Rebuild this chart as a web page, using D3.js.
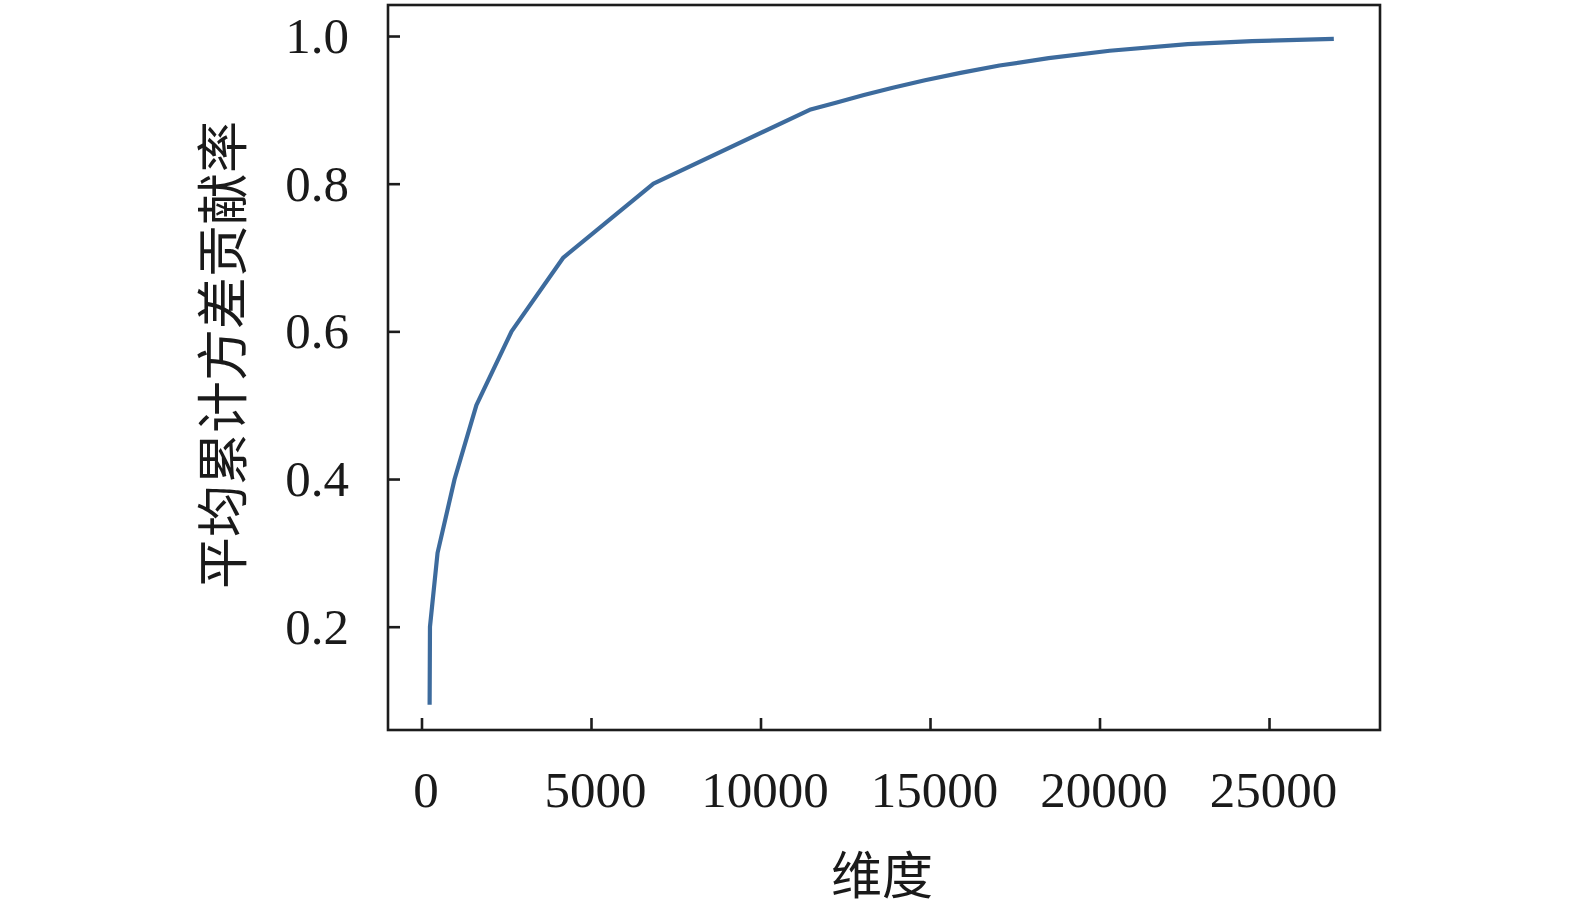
<!DOCTYPE html>
<html>
<head>
<meta charset="utf-8">
<script src="https://cdn.jsdelivr.net/npm/d3@7"></script>
<style>
  html, body { margin: 0; padding: 0; background: #fff; }
  svg { display: block; }
</style>
</head>
<body>
<div id="chart"></div>
<script>
// cumulative explained variance vs. number of dimensions
var dims   = [240, 250, 474, 977, 1620, 2657, 4185, 6843, 11450, 12250, 13050, 13900, 14850, 15900, 17050, 18500, 20300, 22600, 24500, 26850];
var ratios = [0.097, 0.2, 0.3, 0.4, 0.5, 0.6, 0.7, 0.8, 0.9, 0.91, 0.92, 0.93, 0.94, 0.95, 0.96, 0.97, 0.98, 0.989, 0.993, 0.996];
var xTicks = [0, 5000, 10000, 15000, 20000, 25000];
var yTicks = [0.2, 0.4, 0.6, 0.8, 1.0];
var xTitle = "维度";
var yTitle = "平均累计方差贡献率";

var W = 1575, H = 908;
var box = {left: 388, right: 1380, top: 5, bottom: 730};

var svg = d3.select("#chart").append("svg")
  .attr("width", W).attr("height", H);

var x = d3.scaleLinear().domain([-988, 28274]).range([box.left, box.right]);
var y = d3.scaleLinear().domain([0.0601, 1.042]).range([box.bottom, box.top]);

var points = dims.map(function(d, i){ return [d, ratios[i]]; });

var line = d3.line()
  .x(function(p){ return x(p[0]); })
  .y(function(p){ return y(p[1]); });

svg.append("path")
  .datum(points)
  .attr("d", line)
  .attr("fill", "none")
  .attr("stroke", "#3d6b9d")
  .attr("stroke-width", 4.2)
  .attr("stroke-linejoin", "round")
  .attr("stroke-linecap", "square");

// axes, ticks pointing inward
var xAxis = svg.append("g")
  .attr("transform", "translate(0," + box.bottom + ")")
  .call(d3.axisBottom(x).tickValues(xTicks).tickFormat(d3.format("d"))
    .tickSize(-12).tickPadding(41));
var yAxis = svg.append("g")
  .attr("transform", "translate(" + box.left + ",0)")
  .call(d3.axisLeft(y).tickValues(yTicks).tickFormat(d3.format(".1f"))
    .tickSize(-12).tickPadding(39));

[xAxis, yAxis].forEach(function(g){
  g.select(".domain").remove();
  g.selectAll(".tick line").attr("stroke", "#1c1c1c").attr("stroke-width", 2.6);
  g.selectAll(".tick text")
    .attr("fill", "#1a1a1a")
    .style("font-family", "'Liberation Serif', 'DejaVu Serif', serif")
    .style("font-size", "51px");
});
xAxis.selectAll(".tick text").attr("dx", 4);

// frame
svg.append("rect")
  .attr("x", box.left).attr("y", box.top)
  .attr("width", box.right - box.left).attr("height", box.bottom - box.top)
  .attr("fill", "none").attr("stroke", "#1c1c1c").attr("stroke-width", 2.6);

svg.append("text")
  .attr("x", 882).attr("y", 872)
  .attr("text-anchor", "middle").attr("dominant-baseline", "central")
  .style("font-family", "'Noto Sans CJK SC', sans-serif")
  .style("font-size", "51px").attr("fill", "#1a1a1a")
  .text(xTitle);

svg.append("text")
  .attr("transform", "translate(219,355) rotate(-90)")
  .attr("text-anchor", "middle").attr("dominant-baseline", "central")
  .style("font-family", "'Noto Sans CJK SC', sans-serif")
  .style("font-size", "52px").attr("fill", "#1a1a1a")
  .text(yTitle);
</script>
</body>
</html>
